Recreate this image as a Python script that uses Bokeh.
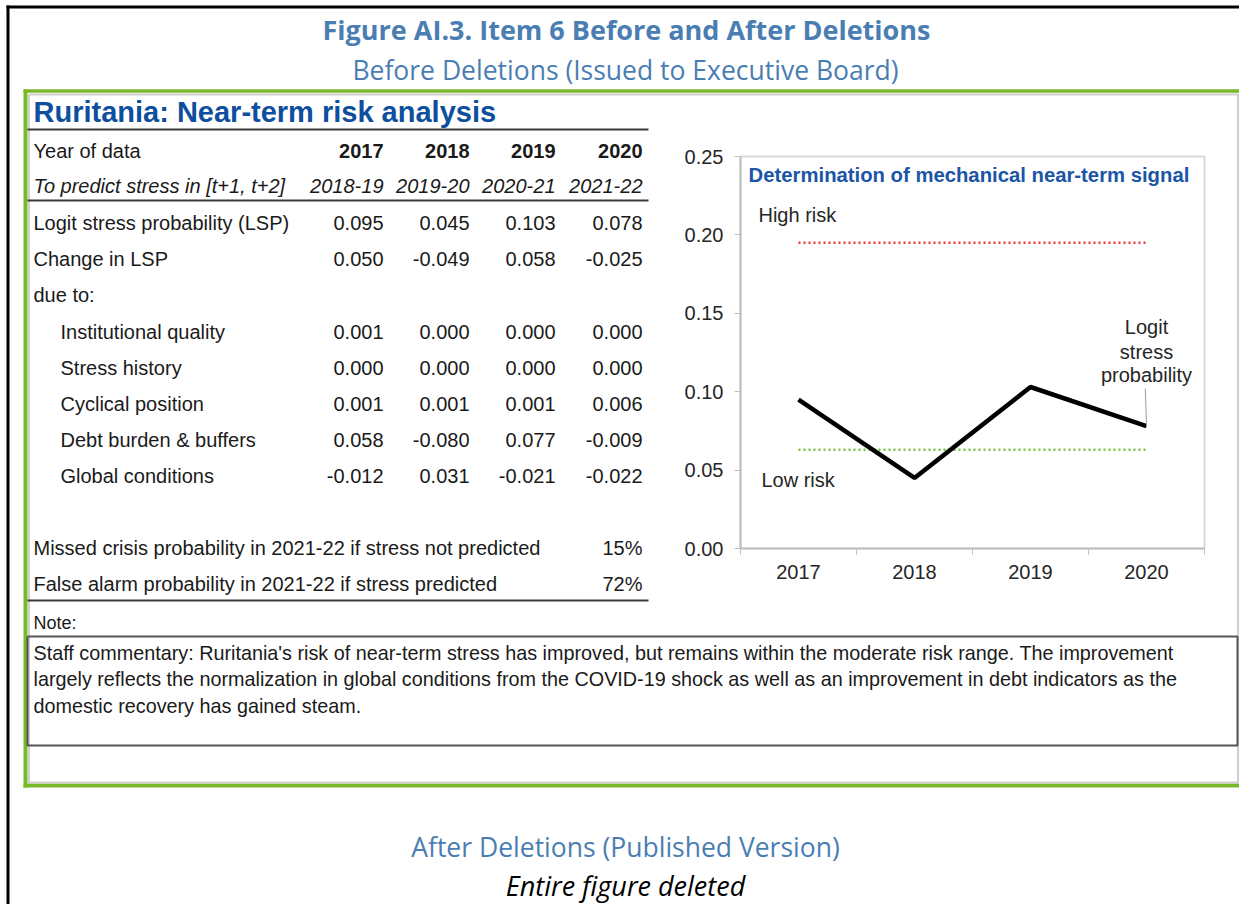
from bokeh.plotting import figure
from bokeh.models import Range1d, FixedTicker, PrintfTickFormatter
from bokeh.core.properties import value
from bokeh.embed import file_html
from bokeh.resources import INLINE

# ---------------- data ----------------
years = ["2017", "2018", "2019", "2020"]
predict_windows = ["2018-19", "2019-20", "2020-21", "2021-22"]
row_labels = ["Logit stress probability (LSP)", "Change in LSP", "due to:",
              "Institutional quality", "Stress history", "Cyclical position",
              "Debt burden & buffers", "Global conditions"]
indented = [False, False, False, True, True, True, True, True]
lsp = [0.095, 0.045, 0.103, 0.078]
change_lsp = [0.050, -0.049, 0.058, -0.025]
institutional_quality = [0.001, 0.000, 0.000, 0.000]
stress_history = [0.000, 0.000, 0.000, 0.000]
cyclical_position = [0.001, 0.001, 0.001, 0.006]
debt_burden = [0.058, -0.080, 0.077, -0.009]
global_conditions = [-0.012, 0.031, -0.021, -0.022]
row_values = [lsp, change_lsp, None, institutional_quality, stress_history,
              cyclical_position, debt_burden, global_conditions]
missed_crisis_pct = 15
false_alarm_pct = 72
high_risk_threshold = 0.195
low_risk_threshold = 0.063
y_ticks = [0.00, 0.05, 0.10, 0.15, 0.20, 0.25]

title = "Figure AI.3. Item 6 Before and After Deletions"
subtitle = "Before Deletions (Issued to Executive Board)"
table_title = "Ruritania: Near-term risk analysis"
chart_title = "Determination of mechanical near-term signal"
commentary = [
    "Staff commentary: Ruritania's risk of near-term stress has improved, but remains within the moderate risk range. The improvement",
    "largely reflects the normalization in global conditions from the COVID-19 shock as well as an improvement in debt indicators as the",
    "domestic recovery has gained steam.",
]
after_title = "After Deletions (Published Version)"
after_note = "Entire figure deleted"

# ---------------- styles ----------------
ARIAL = "Liberation Sans"
HEAD = "Open Sans"
HEAD_BLUE = "#4a7eb3"
DARK_BLUE = "#0d4f9e"
CHART_BLUE = "#1a55a6"
GREEN = "#79b929"
INNER_GRAY = "#cfcfcf"
TXT = "#1a1a1a"
LBL = "#262626"
RULE = "#3a3a3a"

W, H = 1239, 904
FR_L, FR_R, FR_T, FR_B = 740, 1204, 156, 548   # chart plot area (page px)

p = figure(width=W, height=H, x_range=Range1d(0, 4), y_range=Range1d(0, 0.25),
           output_backend="svg", toolbar_location=None,
           min_border_left=FR_L, min_border_right=W - FR_R,
           min_border_top=FR_T, min_border_bottom=H - FR_B)
p.extra_x_ranges = {"page": Range1d(FR_L, FR_R)}
p.extra_y_ranges = {"page": Range1d(FR_B, FR_T)}
p.background_fill_color = "white"
p.border_fill_color = "white"
p.outline_line_color = "#d9d9d9"
p.outline_line_width = 2
p.grid.visible = False

PG = dict(x_range_name="page", y_range_name="page", level="annotation")


def txt(x, y, s, size, color=TXT, align="left", font=ARIAL, style="normal"):
    p.text(x=[x], y=[y], text=[s], text_font=value(font),
           text_font_size=f"{size}px", text_color=color, text_align=align,
           text_baseline="middle", text_font_style=style, **PG)


def seg(xs, ys, color, w):
    p.line(xs, ys, line_color=color, line_width=w, **PG)


# ---------------- chart axes ----------------
xpos = [i + 0.5 for i in range(len(years))]
xa = p.xaxis[0]
xa.ticker = FixedTicker(ticks=xpos, minor_ticks=[float(i) for i in range(len(years) + 1)])
xa.major_label_overrides = {x: y for x, y in zip(xpos, years)}
xa.major_tick_out = 0
xa.major_tick_in = 0
xa.minor_tick_out = 6
xa.minor_tick_in = 0
xa.minor_tick_line_color = "#bfbfbf"
xa.axis_line_color = "#bfbfbf"
xa.axis_line_width = 2
xa.major_label_standoff = 10
xa.major_label_text_font = ARIAL
xa.major_label_text_font_size = "20px"
xa.major_label_text_color = LBL
ya = p.yaxis[0]
ya.ticker = FixedTicker(ticks=y_ticks)
ya.formatter = PrintfTickFormatter(format="%.2f")
ya.major_tick_out = 6
ya.major_tick_in = 0
ya.minor_tick_out = 0
ya.minor_tick_in = 0
ya.major_tick_line_color = "#bfbfbf"
ya.axis_line_color = "#bfbfbf"
ya.axis_line_width = 2
ya.major_label_standoff = 11
ya.major_label_text_font = ARIAL
ya.major_label_text_font_size = "20px"
ya.major_label_text_color = LBL

# ---------------- chart content ----------------
p.line([xpos[0], xpos[-1]], [high_risk_threshold] * 2, line_color="#e8383d",
       line_width=2.6, line_dash="2 3")
p.line([xpos[0], xpos[-1]], [low_risk_threshold] * 2, line_color="#7cc242",
       line_width=2.6, line_dash="2 3")
p.line(xpos, lsp, line_color="black", line_width=4.5)
p.line([xpos[-1] - 0.01, xpos[-1]], [0.102, lsp[-1]], line_color="#9a9a9a", line_width=1)
p.text(x=[0.07], y=[0.2385], text=[chart_title], text_font=value(ARIAL),
       text_font_size="20.3px", text_font_style="bold", text_color=CHART_BLUE,
       text_baseline="middle")
p.text(x=[0.155], y=[0.2124], text=["High risk"], text_font=value(ARIAL),
       text_font_size="20px", text_color=LBL, text_baseline="middle")
p.text(x=[0.18], y=[0.044], text=["Low risk"], text_font=value(ARIAL),
       text_font_size="20px", text_color=LBL, text_baseline="middle")
p.text(x=[xpos[-1]] * 3, y=[0.141, 0.1255, 0.1107],
       text=["Logit", "stress", "probability"], text_font=value(ARIAL),
       text_font_size="20px", text_color=LBL, text_align="center",
       text_baseline="middle")

# ---------------- frames ----------------
seg([6, W], [6.5, 6.5], "black", 3)                 # outer black top
seg([7.5, 7.5], [5, H], "black", 3)                 # outer black left
seg([23, W], [90.5, 90.5], GREEN, 3.5)              # green frame top
seg([25, 25], [89, 787], GREEN, 4)                  # green frame left
seg([23, W], [785, 785], GREEN, 4)                  # green frame bottom
seg([28.5, 1237.5, 1237.5, 28.5, 28.5], [94, 94, 782, 782, 94], INNER_GRAY, 2)

# ---------------- header ----------------
txt(626, 29, title, 27, HEAD_BLUE, "center", HEAD, "bold")
txt(625, 69, subtitle, 26.5, HEAD_BLUE, "center", HEAD)

# ---------------- table ----------------
TX0, TX1 = 27, 648
COL_R = [383, 469, 555, 642]
FS = 20
txt(33, 111, table_title, 29, DARK_BLUE, "left", ARIAL, "bold")
seg([TX0, TX1], [129, 129], RULE, 2)
txt(33, 150, "Year of data", FS)
txt(33, 185, "To predict stress in [t+1, t+2]", FS, style="italic")
p.text(x=COL_R, y=[150] * 4, text=years, text_font=value(ARIAL),
       text_font_size=f"{FS}px", text_color=TXT, text_align="right",
       text_baseline="middle", text_font_style="bold", **PG)
p.text(x=COL_R, y=[185] * 4, text=predict_windows, text_font=value(ARIAL),
       text_font_size=f"{FS}px", text_color=TXT, text_align="right",
       text_baseline="middle", text_font_style="italic", **PG)
seg([TX0, TX1], [200, 200], RULE, 2)
row_y = [222, 258, 294, 331, 367, 403, 439, 475]
for lab, ind, vals, yy in zip(row_labels, indented, row_values, row_y):
    txt(60 if ind else 33, yy, lab, FS)
    if vals is not None:
        p.text(x=COL_R, y=[yy] * 4, text=[f"{v:.3f}" for v in vals],
               text_font=value(ARIAL), text_font_size=f"{FS}px",
               text_color=TXT, text_align="right", text_baseline="middle", **PG)
txt(33, 547, "Missed crisis probability in 2021-22 if stress not predicted", FS)
txt(33, 583, "False alarm probability in 2021-22 if stress predicted", FS)
txt(COL_R[3], 547, f"{missed_crisis_pct}%", FS, align="right")
txt(COL_R[3], 583, f"{false_alarm_pct}%", FS, align="right")
seg([TX0, TX1], [600, 600], RULE, 2)

# ---------------- note / commentary ----------------
txt(33, 622, "Note:", 18)
seg([27, 1237, 1237, 27, 27], [636, 636, 745, 745, 636], "#555555", 2)
for i, line in enumerate(commentary):
    txt(33, 652 + i * 26.5, line, 19.8)

# ---------------- after deletions ----------------
txt(625, 846, after_title, 26.5, HEAD_BLUE, "center", HEAD)
txt(625, 885, after_note, 27, "black", "center", HEAD, "italic")

open("out.html", "w").write(file_html(p, INLINE))
